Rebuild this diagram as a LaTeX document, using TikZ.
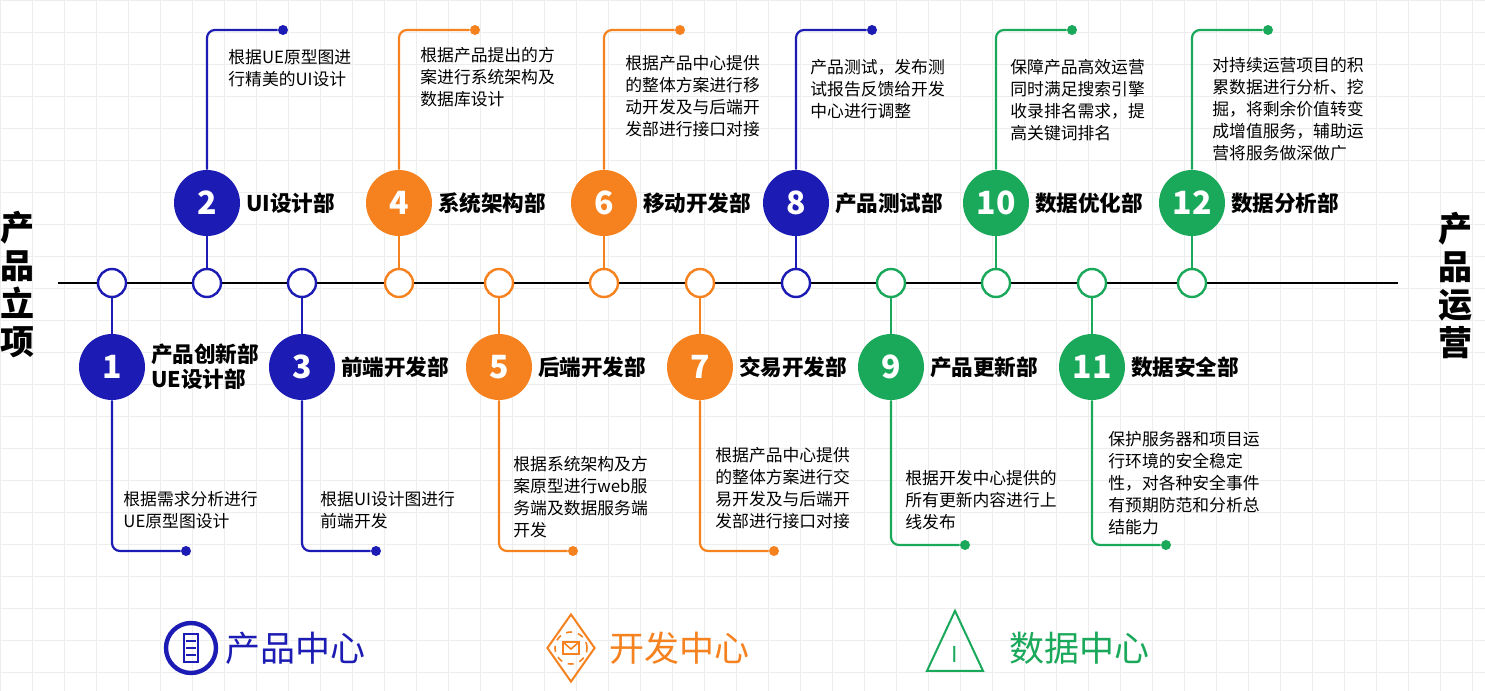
\documentclass[tikz,border=0pt]{standalone}
\usepackage{fontspec}
\setmainfont{Noto Sans CJK SC}
\usetikzlibrary{shapes.geometric}
\definecolor{cb}{HTML}{1C1CB4}
\definecolor{co}{HTML}{F5821F}
\definecolor{cg}{HTML}{1AA85A}
\begin{document}
\begin{tikzpicture}[x=0.5pt,y=-0.5pt,
 small/.style={circle,draw=#1,line width=1.2pt,fill=white,minimum size=14pt,inner sep=0},
 big/.style={circle,fill=#1,minimum size=33pt,inner sep=0,text=white,font=\fontsize{16}{16}\selectfont\bfseries},
 lab/.style={anchor=west,font=\fontsize{10.8}{12.5}\selectfont\bfseries,align=left},
 desc/.style={anchor=north west,font=\fontsize{8.4}{11}\selectfont,align=left,inner sep=0},
 conn/.style={draw=#1,line width=1.1pt,rounded corners=4pt},
 dot/.style={circle,fill=#1,minimum size=5pt,inner sep=0}]
\useasboundingbox (0,0) rectangle (1485,691);
\fill[white] (0,0) rectangle (1485,691);
\foreach \x in {0,32,...,1485} \draw[black!7,line width=0.3pt] (\x,0) -- (\x,691);
\foreach \y in {0,32,...,691} \draw[black!7,line width=0.3pt] (0,\y) -- (1485,\y);
\draw[line width=1.2pt] (58,283) coordinate (tl) -- (1398,283) coordinate (tr);
\node[font=\fontsize{17}{19}\selectfont\bfseries,align=center] (L) at (17,285) {产\\品\\立\\项};
\node[font=\fontsize{17}{19}\selectfont\bfseries,align=center] (R) at (1455,285) {产\\品\\运\\营};
\foreach \n/\x/\c/\t/\cy/\lb in {
 1/112/cb/0/551/{产品创新部\\UE设计部},
 2/207/cb/1/30/{UI设计部},
 3/302/cb/0/551/{前端开发部},
 4/399/co/1/30/{系统架构部},
 5/499/co/0/551/{后端开发部},
 6/604/co/1/30/{移动开发部},
 7/700/co/0/551/{交易开发部},
 8/796/cb/1/30/{产品测试部},
 9/891/cg/0/545/{产品更新部},
 10/996/cg/1/30/{数据优化部},
 11/1092/cg/0/545/{数据安全部},
 12/1192/cg/1/30/{数据分析部}}{
  \node[small=\c] (s\n) at (\x,283) {};
  \ifnum\t=1
    \node[big=\c] (b\n) at (\x,203) {\n};
    \coordinate (k\n) at (\x,\cy);
    \node[dot=\c] (d\n) at (\x+76,\cy) {};
  \else
    \node[big=\c] (b\n) at (\x,367) {\n};
    \coordinate (k\n) at (\x,\cy);
    \node[dot=\c] (d\n) at (\x+74,\cy) {};
  \fi
  \path[conn=\c] (s\n) -- (b\n);
  \path[conn=\c] (b\n) -- (k\n) -- (d\n);
  \node[lab] (l\n) at (\x+32,\ifnum\t=1 203\else 367\fi) {\lb};
}
\node[desc] (t1) at (123,491) {根据需求分析进行\\UE原型图设计};
\node[desc] (t2) at (228,49) {根据UE原型图进\\行精美的UI设计};
\node[desc] (t3) at (320,491) {根据UI设计图进行\\前端开发};
\node[desc] (t4) at (420,47) {根据产品提出的方\\案进行系统架构及\\数据库设计};
\node[desc] (t5) at (513,456) {根据系统架构及方\\案原型进行web服\\务端及数据服务端\\开发};
\node[desc] (t6) at (625,55) {根据产品中心提供\\的整体方案进行移\\动开发及与后端开\\发部进行接口对接};
\node[desc] (t7) at (715,447) {根据产品中心提供\\的整体方案进行交\\易开发及与后端开\\发部进行接口对接};
\node[desc] (t8) at (810,59) {产品测试，发布测\\试报告反馈给开发\\中心进行调整};
\node[desc] (t9) at (905,470) {根据开发中心提供的\\所有更新内容进行上\\线发布};
\node[desc] (t10) at (1010,59) {保障产品高效运营\\同时满足搜索引擎\\收录排名需求，提\\高关键词排名};
\node[desc] (t11) at (1108,431) {保护服务器和项目运\\行环境的安全稳定\\性，对各种安全事件\\有预期防范和分析总\\结能力};
\node[desc] (t12) at (1212,57) {对持续运营项目的积\\累数据进行分析、挖\\掘，将剩余价值转变\\成增值服务，辅助运\\营将服务做深做广};
% legend
\node[circle,draw=cb,line width=2.2pt,minimum size=25pt,inner sep=0] (i1) at (191,648) {};
\draw[cb,line width=1pt] (184,634) rectangle (198,662);
\foreach \yy in {641,648,655} \draw[cb,line width=0.8pt] (186,\yy) -- (196,\yy);
\node[anchor=west,text=cb,font=\fontsize{17.5}{20}\selectfont] (n1) at (218,648) {产品中心};
\node[diamond,draw=co,line width=1pt,minimum width=24pt,minimum height=34pt,inner sep=0] (i2) at (571,648) {};
\draw[co,line width=0.8pt,dashed] (571,648) circle (8pt);
\draw[co,line width=0.8pt] (563,642) rectangle (579,654) (563,642) -- (571,649) -- (579,642);
\node[anchor=west,text=co,font=\fontsize{17.5}{20}\selectfont] (n2) at (602,648) {开发中心};
\node[isosceles triangle,isosceles triangle apex angle=50,shape border rotate=90,draw=cg,line width=1pt,minimum height=30pt,inner sep=0] (i3) at (955,653) {};
\node[text=cg,font=\fontsize{11}{11}\selectfont] (ii3) at (955,654) {I};
\node[anchor=west,text=cg,font=\fontsize{17.5}{20}\selectfont] (n3) at (1002,648) {数据中心};
\end{tikzpicture}
\end{document}
